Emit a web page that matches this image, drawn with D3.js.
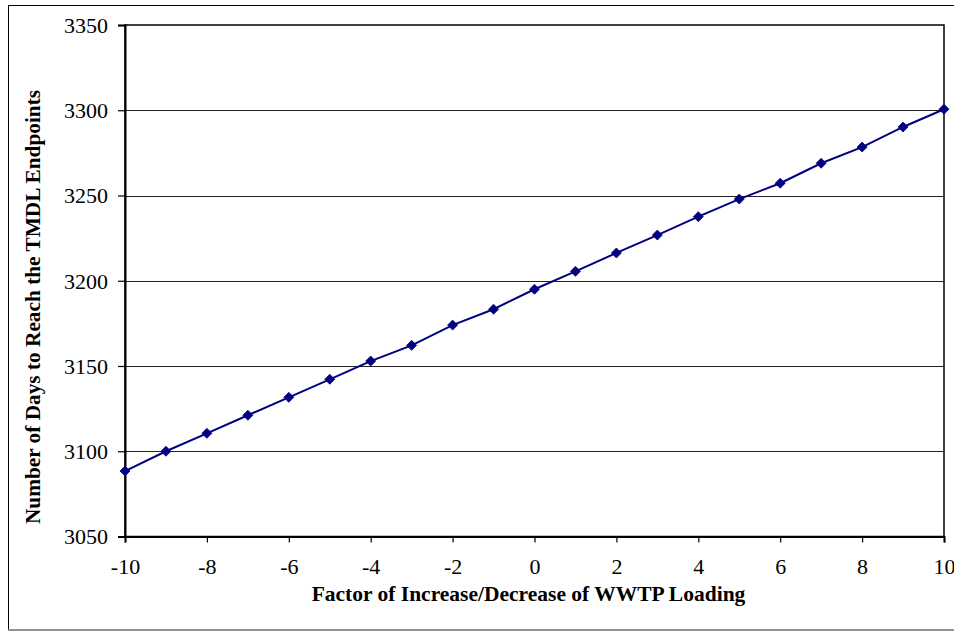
<!DOCTYPE html>
<html>
<head>
<meta charset="utf-8">
<script src="https://cdn.jsdelivr.net/npm/d3@7"></script>
<style>
  html, body { margin: 0; padding: 0; background: #fff; }
  svg { display: block; }
  text { font-family: "Liberation Serif", "Times New Roman", serif; fill: #000; }
</style>
</head>
<body>
<svg id="chart" width="954" height="631"></svg>
<script>
const factors = [-10,-9,-8,-7,-6,-5,-4,-3,-2,-1,0,1,2,3,4,5,6,7,8,9,10];
const days = [3088.4,3100,3110.5,3121.1,3131.6,3142.2,3152.9,3162.1,3174,3183.3,3195,3205.5,3216.3,3226.8,3237.6,3247.9,3257.2,3268.9,3278.4,3290.2,3300.6];
const xTicks = [-10,-8,-6,-4,-2,0,2,4,6,8,10];
const yTicks = [3050,3100,3150,3200,3250,3300,3350];
const xTitle = "Factor of Increase/Decrease of WWTP Loading";
const yTitle = "Number of Days to Reach the TMDL Endpoints";

const svg = d3.select("#chart");
const W = 954, H = 631;
const plot = {left: 125, right: 944, top: 25, bottom: 536.5};

// outer frame
svg.append("rect").attr("x", 8.5).attr("y", 5.5).attr("width", W + 10).attr("height", 624.5)
  .attr("fill", "none").attr("stroke", "#000").attr("stroke-width", 1);
svg.append("line").attr("x1", 8).attr("x2", W).attr("y1", 630).attr("y2", 630)
  .attr("stroke", "#999").attr("stroke-width", 1.5);

const x = d3.scaleLinear().domain([-10, 10]).range([plot.left, plot.right]);
const y = d3.scaleLinear().domain([3050, 3350]).range([plot.bottom, plot.top]);

// gridlines
svg.append("g").selectAll("line").data(yTicks.filter(v => v > 3050 && v < 3350)).join("line")
  .attr("x1", plot.left).attr("x2", plot.right)
  .attr("y1", d => Math.round(y(d)) + 0.5).attr("y2", d => Math.round(y(d)) + 0.5)
  .attr("stroke", "#222").attr("stroke-width", 1);

// plot frame
svg.append("rect").attr("x", plot.left).attr("y", plot.top)
  .attr("width", plot.right - plot.left).attr("height", plot.bottom - plot.top)
  .attr("fill", "none").attr("stroke", "#000").attr("stroke-width", 1.5);

// y axis
const yAxis = svg.append("g").attr("transform", `translate(${plot.left},0)`)
  .call(d3.axisLeft(y).tickValues(yTicks).tickSize(7).tickPadding(10).tickFormat(d3.format("d")));
yAxis.select(".domain").attr("stroke", "#000").attr("stroke-width", 2);
yAxis.selectAll(".tick line").attr("stroke", "#000").attr("stroke-width", 1.2);
yAxis.selectAll("text").attr("font-size", 22).style("font-family", "Liberation Serif, serif").attr("fill", "#000")
  .attr("dy", "0.34em");

// x axis
const xAxis = svg.append("g").attr("transform", `translate(0,${plot.bottom})`)
  .call(d3.axisBottom(x).tickValues(xTicks).tickSize(6).tickPadding(16).tickFormat(d3.format("d")));
xAxis.select(".domain").attr("stroke", "#000").attr("stroke-width", 2);
xAxis.selectAll(".tick line").attr("stroke", "#000").attr("stroke-width", 1.2);
xAxis.selectAll("text").attr("font-size", 22).style("font-family", "Liberation Serif, serif").attr("fill", "#000")
  .text(d => d < 0 ? "-" + Math.abs(d) : String(d));

// series
const pts = factors.map((f, i) => [f, days[i]]);
svg.append("path").datum(pts)
  .attr("fill", "none").attr("stroke", "#000080").attr("stroke-width", 2)
  .attr("d", d3.line().x(d => x(d[0])).y(d => y(d[1])));
svg.append("g").selectAll("path").data(pts).join("path")
  .attr("transform", d => `translate(${x(d[0])},${y(d[1])})`)
  .attr("d", "M0,-5L5,0L0,5L-5,0Z")
  .attr("fill", "#000080").attr("stroke", "#000080").attr("stroke-width", 0.8);

// titles
svg.append("text").attr("x", (plot.left + plot.right) / 2 - 6).attr("y", 601)
  .attr("text-anchor", "middle").attr("font-size", 21.5).attr("font-weight", "bold").text(xTitle);
svg.append("text").attr("transform", `translate(40,${307}) rotate(-90)`)
  .attr("text-anchor", "middle").attr("font-size", 21.3).attr("font-weight", "bold").text(yTitle);
</script>
</body>
</html>
